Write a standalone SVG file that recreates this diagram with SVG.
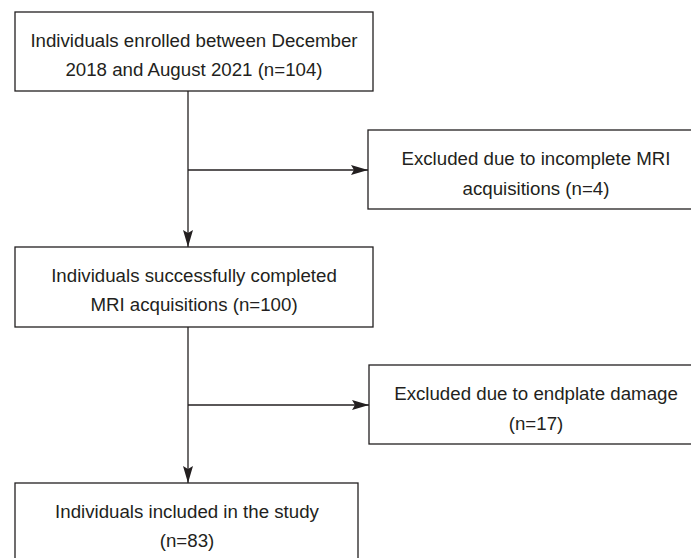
<svg xmlns="http://www.w3.org/2000/svg" width="691" height="558" viewBox="0 0 691 558">
<defs>
<style>
.box{fill:#fff;stroke:#231f20;stroke-width:1.3}
.t{font-family:"Liberation Sans",Arial,Helvetica,sans-serif;font-size:18.7px;fill:#231f20;text-anchor:middle}
.c{fill:none;stroke:#231f20;stroke-width:1.3}
</style>
<marker id="ah" markerWidth="17" markerHeight="10" refX="17" refY="5" orient="auto" markerUnits="userSpaceOnUse">
<path d="M0,0 L17,5 L0,10 L3,5 z" fill="#231f20"/>
</marker>
</defs>
<rect width="691" height="558" fill="#fff"/>
<g id="connectors">
<path class="c" d="M188,91 V247" marker-end="url(#ah)"/>
<path class="c" d="M188,170 H368" marker-end="url(#ah)"/>
<path class="c" d="M188,327 V483" marker-end="url(#ah)"/>
<path class="c" d="M188,405 H369" marker-end="url(#ah)"/>
</g>
<g id="n1">
<rect class="box" x="15" y="12" width="358" height="79"/>
<text class="t" x="194" y="47">Individuals enrolled between December</text>
<text class="t" x="194" y="76">2018 and August 2021 (n=104)</text>
</g>
<g id="n2">
<rect class="box" x="368" y="130" width="336" height="79"/>
<text class="t" x="536" y="165">Excluded due to incomplete MRI</text>
<text class="t" x="536" y="195">acquisitions (n=4)</text>
</g>
<g id="n3">
<rect class="box" x="15" y="247" width="358" height="80"/>
<text class="t" x="194" y="282">Individuals successfully completed</text>
<text class="t" x="194" y="311">MRI acquisitions (n=100)</text>
</g>
<g id="n4">
<rect class="box" x="369" y="365" width="335" height="79"/>
<text class="t" x="536" y="400">Excluded due to endplate damage</text>
<text class="t" x="536" y="430">(n=17)</text>
</g>
<g id="n5">
<rect class="box" x="15" y="483" width="343" height="80"/>
<text class="t" x="187" y="518">Individuals included in the study</text>
<text class="t" x="187" y="547">(n=83)</text>
</g>
</svg>
